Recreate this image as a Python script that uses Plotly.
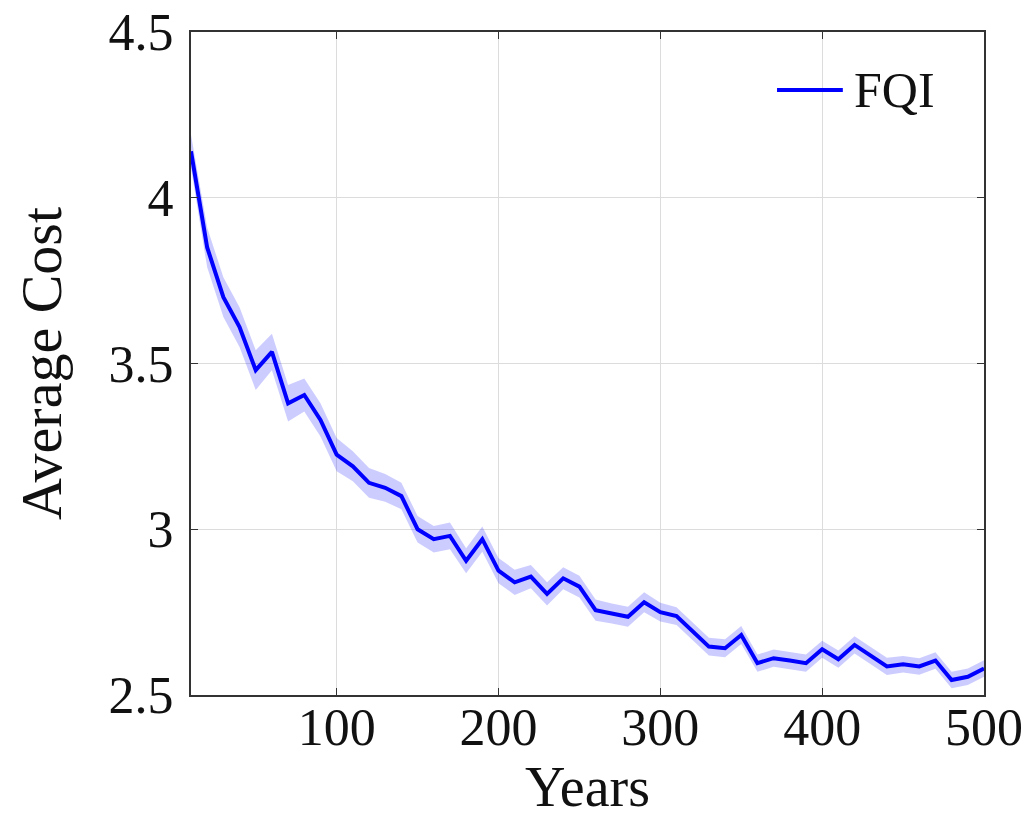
import plotly.graph_objects as go

years = [10, 20, 30, 40, 50, 60, 70, 80, 90, 100,
         110, 120, 130, 140, 150, 160, 170, 180, 190, 200,
         210, 220, 230, 240, 250, 260, 270, 280, 290, 300,
         310, 320, 330, 340, 350, 360, 370, 380, 390, 400,
         410, 420, 430, 440, 450, 460, 470, 480, 490, 500]

fqi_mean = [4.14, 3.85, 3.70, 3.61, 3.48, 3.535, 3.38, 3.405, 3.33, 3.225,
            3.19, 3.14, 3.125, 3.10, 3.00, 2.97, 2.98, 2.905, 2.97, 2.875,
            2.84, 2.857, 2.805, 2.852, 2.827, 2.756, 2.746, 2.736, 2.78, 2.75,
            2.738, 2.692, 2.646, 2.641, 2.681, 2.596, 2.611, 2.604, 2.596, 2.638,
            2.608, 2.651, 2.618, 2.586, 2.593, 2.586, 2.604, 2.545, 2.555, 2.58]

fqi_spread = [0.05, 0.06, 0.06, 0.06, 0.06, 0.055, 0.055, 0.05, 0.05, 0.05,
              0.045, 0.045, 0.042, 0.04, 0.04, 0.04, 0.04, 0.038, 0.038, 0.038,
              0.038, 0.035, 0.035, 0.033, 0.033, 0.032, 0.03, 0.03, 0.03, 0.028,
              0.027, 0.027, 0.027, 0.027, 0.027, 0.026, 0.026, 0.026, 0.026, 0.026,
              0.026, 0.026, 0.026, 0.026, 0.025, 0.025, 0.025, 0.025, 0.025, 0.025]

y_ticks = [2.5, 3, 3.5, 4, 4.5]
y_tick_text = ["2.5", "3", "3.5", "4", "4.5"]
x_ticks = [100, 200, 300, 400, 500]
x_tick_text = ["100", "200", "300", "400", "500"]

upper = [m + s for m, s in zip(fqi_mean, fqi_spread)]
lower = [m - s for m, s in zip(fqi_mean, fqi_spread)]

FONT = "Liberation Serif"

fig = go.Figure()
fig.add_trace(go.Scatter(x=years, y=upper, mode="lines", line=dict(width=0),
                         showlegend=False, hoverinfo="skip"))
fig.add_trace(go.Scatter(x=years, y=lower, mode="lines", line=dict(width=0),
                         fill="tonexty", fillcolor="rgba(0,0,255,0.2)",
                         showlegend=False, hoverinfo="skip"))
fig.add_trace(go.Scatter(x=years, y=fqi_mean, mode="lines", name="FQI",
                         line=dict(color="#0000ff", width=4), showlegend=False))

axis_common = dict(
    showgrid=True, gridcolor="#dcdcdc", gridwidth=1,
    showline=True, linecolor="#333333", linewidth=2, mirror="ticks",
    ticks="inside", ticklen=7, tickcolor="#333333", tickwidth=1,
    zeroline=False, automargin=False,
    tickfont=dict(family=FONT, size=52, color="#111111"),
)

fig.update_xaxes(range=[10, 500], tickvals=x_ticks, ticktext=x_tick_text,
                 title=dict(text="Years", font=dict(family=FONT, size=56, color="#111111"),
                            standoff=0),
                 ticklabelstandoff=-14,
                 **axis_common)
fig.update_yaxes(range=[2.5, 4.5], tickvals=y_ticks, ticktext=y_tick_text,
                 title=dict(text="Average Cost", font=dict(family=FONT, size=58, color="#111111"),
                            standoff=28),
                 ticklabelstandoff=5,
                 **axis_common)

# legend drawn in paper coordinates
fig.add_shape(type="line", xref="paper", yref="paper",
              x0=0.739, x1=0.822, y0=0.9125, y1=0.9125,
              line=dict(color="#0000ff", width=4))
fig.add_annotation(xref="paper", yref="paper", x=0.833, y=0.9125,
                   xanchor="left", yanchor="middle", showarrow=False,
                   text="FQI", font=dict(family=FONT, size=50, color="#111111"))

fig.update_layout(
    width=1033, height=820,
    margin=dict(l=191, r=49, t=32, b=125, autoexpand=False),
    plot_bgcolor="white", paper_bgcolor="white",
    showlegend=False,
)

fig.write_html("out.html")
